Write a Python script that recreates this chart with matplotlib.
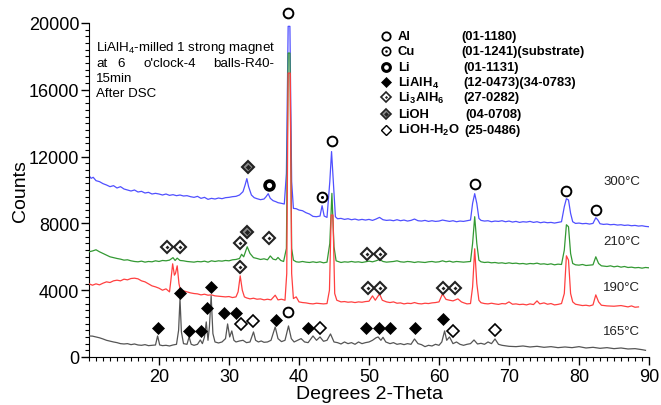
import matplotlib
matplotlib.use("Agg")
import matplotlib.pyplot as plt
from matplotlib.ticker import MultipleLocator

plt.rcParams['font.family'] = ['Liberation Sans', 'DejaVu Sans']
plt.rcParams['mathtext.fontset'] = 'custom'
plt.rcParams['mathtext.rm'] = 'Liberation Sans'
plt.rcParams['mathtext.it'] = 'Liberation Sans:italic'
plt.rcParams['mathtext.bf'] = 'Liberation Sans:bold'

# ---------------- data (2-theta, counts) ----------------
x_165 = [10, 10.5, 11, 11.5, 12, 12.5, 13, 13.5, 14, 14.5, 15, 15.5, 16, 16.5, 17, 17.5, 18, 18.5, 19, 19.5,
         19.8, 20.1, 20.5, 21, 21.5, 22, 22.5, 22.8, 23.0, 23.2, 23.5, 24, 24.3, 24.6, 25, 25.5, 25.9, 26.2,
         26.5, 26.75, 27.0, 27.2, 27.45, 27.7, 28, 28.5, 29, 29.5, 29.8, 30.1, 30.4, 30.7, 31, 31.5, 32, 32.5,
         33, 33.5, 33.8, 34.2, 34.6, 35, 35.5, 36, 36.6, 37, 37.5, 38, 38.5, 38.9, 39.3, 39.8, 40.3, 40.8,
         41.3, 42, 42.5, 43, 43.5, 44, 44.5, 45, 45.5, 46, 46.5, 47, 47.5, 48, 48.5, 49, 49.5, 50, 50.5, 51,
         51.3, 51.7, 52, 52.4, 53, 53.5, 54, 54.5, 55, 55.5, 56, 56.5, 57, 57.5, 58, 58.5, 59, 59.5, 60, 60.4,
         60.8, 61.1, 61.5, 62, 62.5, 63, 63.5, 64, 64.5, 65, 65.5, 66, 66.5, 67, 67.5, 68, 68.5, 69, 70, 71,
         72, 73, 74, 75, 76, 77, 78, 79, 80, 81, 82, 83, 84, 85, 86, 87, 88, 89, 89.5]
y_165 = [1260, 1250, 1200, 1150, 1080, 1000, 950, 900, 860, 800, 780, 800, 740, 780, 720, 700, 740, 680, 700, 720,
         1260, 720, 680, 700, 660, 720, 760, 1600, 3480, 1500, 800, 760, 1200, 760, 700, 760, 1020, 800,
         1200, 2100, 1000, 1800, 3660, 1400, 900, 840, 900, 1100, 1980, 1200, 1560, 1000, 900, 960, 1000, 860,
         900, 1500, 1000, 900, 960, 880, 900, 1000, 1800, 1100, 920, 1000, 1860, 1100, 900, 1000, 1100, 900,
         860, 1260, 1000, 1200, 940, 1000, 1380, 900, 860, 780, 900, 800, 860, 760, 900, 800, 860, 900, 1000, 1150,
         1200, 1000, 1180, 900, 800, 860, 760, 800, 740, 800, 760, 1080, 800, 740, 620, 700, 660, 760, 700, 900,
         1560, 1000, 1200, 800, 900, 760, 700, 760, 800, 1020, 780, 820, 760, 900, 800, 1080, 760, 700, 640, 620,
         660, 600, 640, 580, 620, 560, 600, 560, 620, 540, 580, 520, 560, 500, 540, 480, 500, 440, 400]

x_190 = [10, 10.5, 11, 11.5, 12, 12.5, 13, 13.5, 14, 14.5, 15, 15.5, 16, 16.5, 17, 17.5, 18, 18.5, 19, 19.5,
         20, 20.5, 21, 21.5, 21.7, 21.95, 22.2, 22.35, 22.6, 22.85, 23.1, 23.5, 24, 24.5, 25, 25.5, 26, 26.5,
         27, 27.5, 28, 28.5, 29, 29.5, 30, 30.5, 31, 31.3, 31.6, 31.9, 32.2, 32.5, 33, 33.5, 34, 34.5, 35,
         35.5, 36, 36.6, 37, 37.5, 38, 38.25, 38.45, 38.75, 38.95, 39.2, 39.6, 40, 40.5, 41, 41.5, 42, 42.5,
         43, 43.5, 44, 44.35, 44.6, 44.85, 45.1, 45.4, 46, 46.5, 47, 47.5, 48, 48.5, 49, 49.5, 50, 50.5, 50.9,
         51.5, 51.9, 52.5, 53, 53.5, 54, 54.5, 55, 55.5, 56, 56.5, 57, 57.5, 58, 58.5, 59, 59.5, 60, 60.5, 61,
         61.5, 62, 62.7, 63.2, 63.5, 64, 64.5, 64.8, 65.1, 65.4, 65.7, 66, 66.5, 67, 67.5, 68, 68.5, 69, 69.5,
         70, 70.5, 71, 71.5, 72, 72.5, 73, 73.5, 74, 74.4, 75, 75.5, 76, 76.5, 77, 77.5, 77.9, 78.2, 78.5,
         78.8, 79.1, 79.5, 80, 80.5, 81, 81.5, 82, 82.4, 82.8, 83.2, 84, 85, 86, 87, 87.5, 88, 88.5]
y_190 = [4380, 4300, 4380, 4320, 4420, 4500, 4460, 4560, 4600, 4560, 4660, 4620, 4700, 4720, 4680, 4560, 4500,
         4380, 4260, 4200, 4120, 4000, 4080, 3900, 4600, 5580, 4900, 5000, 5460, 4400, 3900, 3960, 3900, 3840,
         3800, 3780, 3720, 3760, 3700, 3720, 3660, 3640, 3620, 3600, 3620, 3560, 3600, 3900, 4860, 4000, 3600,
         3540, 3480, 3520, 3460, 3480, 3420, 3460, 3420, 3700, 3420, 3460, 3400, 5000, 17000, 17000, 5000, 3500,
         3600, 3300, 3260, 3240, 3200, 3180, 3220, 3200, 3180, 3200, 4000, 8500, 8500, 3800, 3400, 3300, 3320,
         3280, 3300, 3260, 3300, 3280, 3320, 3340, 3660, 3400, 3780, 3400, 3300, 3260, 3300, 3220, 3240, 3180,
         3220, 3200, 3260, 3200, 3180, 3220, 3200, 3240, 3260, 3300, 3780, 3450, 3400, 3360, 3480, 3300, 3250,
         3180, 3200, 4200, 6480, 4400, 3400, 3250, 3200, 3180, 3220, 3180, 3150, 3200, 3180, 3300, 3160, 3180,
         3140, 3160, 3120, 3180, 3140, 3360, 3180, 3240, 3160, 3200, 3120, 3150, 3200, 3800, 6060, 5800, 3800,
         3300, 3160, 3120, 3080, 3100, 3060, 3120, 3720, 3300, 3100, 3060, 3040, 3080, 3000, 3060, 2980, 3000]

x_210 = [10, 10.5, 11, 11.5, 12, 12.5, 13, 13.5, 14, 14.5, 15, 15.5, 16, 16.5, 17, 17.5, 18, 18.5, 19, 19.5,
         20, 20.5, 21, 21.5, 22, 22.3, 22.6, 23, 23.5, 24, 24.5, 25, 25.5, 26, 26.5, 27, 27.5, 28, 28.5, 29,
         29.5, 30, 30.5, 31, 31.5, 31.8, 32.1, 32.6, 33, 33.5, 34, 34.5, 35, 35.5, 35.9, 36.3, 36.7, 37, 37.4,
         37.8, 38.2, 38.45, 38.7, 38.95, 39.2, 39.6, 40, 40.5, 41, 41.5, 42, 42.5, 43, 43.5, 44, 44.4, 44.7,
         45.0, 45.3, 45.7, 46, 46.5, 47, 47.5, 48, 48.5, 49, 49.5, 50, 50.5, 51, 51.5, 52, 52.5, 53, 53.5, 54,
         54.5, 55, 55.5, 56, 56.5, 57, 57.5, 58, 58.5, 59, 59.5, 60, 60.5, 61, 61.5, 62, 62.5, 63, 63.5, 64,
         64.5, 64.8, 65.1, 65.4, 65.7, 66, 66.5, 67, 67.5, 68, 68.5, 69, 69.5, 70, 70.5, 71, 71.5, 72, 72.5,
         73, 73.5, 74, 74.5, 75, 75.5, 76, 76.5, 77, 77.5, 77.9, 78.2, 78.5, 78.8, 79.1, 79.5, 80, 80.5, 81,
         81.5, 82, 82.4, 82.8, 83.2, 84, 84.5, 85, 85.5, 86, 86.5, 87, 87.5, 88, 88.5, 89, 89.5, 90]
y_210 = [6300, 6350, 6420, 6300, 6200, 6100, 6000, 5950, 5900, 5860, 5800, 5820, 5760, 5720, 5700, 5740, 5680,
         5720, 5700, 5760, 5720, 5780, 5760, 5800, 5950, 5780, 5920, 5780, 5760, 5720, 5700, 5680, 5720, 5700,
         5740, 5680, 5760, 5720, 5760, 5740, 5780, 5760, 5820, 5840, 5900, 6150, 6000, 6600, 6200, 5950, 5900,
         5840, 5880, 5820, 6050, 5860, 5820, 5960, 5780, 5720, 6500, 18200, 18200, 6500, 5800, 5700, 5680, 5720,
         5680, 5660, 5700, 5660, 5700, 5640, 5680, 6800, 9800, 6600, 5760, 5700, 5660, 5700, 5680, 5720, 5680,
         5700, 5660, 5700, 5740, 5700, 5760, 5840, 5720, 5680, 5700, 5720, 5760, 5700, 5680, 5720, 5700, 5660,
         5700, 5680, 5660, 5700, 5720, 5680, 5700, 5760, 5700, 5740, 5680, 5720, 5700, 5680, 5700, 5720, 6800,
         8400, 6800, 5800, 5700, 5660, 5680, 5640, 5660, 5620, 5640, 5600, 5640, 5600, 5620, 5580, 5600, 5560,
         5600, 5580, 5620, 5560, 5580, 5540, 5580, 5520, 5560, 5540, 6400, 7920, 7800, 6200, 5600, 5520, 5500,
         5540, 5480, 5500, 5520, 6000, 5600, 5460, 5420, 5460, 5400, 5440, 5380, 5420, 5360, 5380, 5340, 5360,
         5320, 5360, 5340]

x_300 = [10, 10.3, 10.6, 11, 11.5, 12, 12.5, 13, 13.5, 14, 14.5, 15, 15.5, 16, 16.5, 17, 17.5, 18, 18.5, 19,
         19.5, 20, 20.5, 21, 21.5, 22, 22.5, 23, 23.5, 24, 24.5, 25, 25.5, 26, 26.5, 27, 27.5, 28, 28.5, 29,
         29.5, 30, 30.5, 31, 31.5, 32, 32.3, 32.55, 32.8, 33.2, 33.6, 34, 34.5, 35, 35.3, 35.6, 35.9, 36.3,
         36.7, 37, 37.5, 37.9, 38.2, 38.45, 38.7, 38.95, 39.2, 39.6, 40, 40.5, 41, 41.5, 42, 42.5, 43, 43.3,
         43.6, 44, 44.4, 44.65, 44.9, 45.2, 45.5, 46, 46.5, 47, 47.5, 48, 48.5, 49, 49.5, 50, 50.5, 51, 51.5,
         52, 52.5, 53, 53.5, 54, 54.5, 55, 55.5, 56, 56.5, 57, 57.5, 58, 58.5, 59, 59.5, 60, 60.5, 61, 61.5,
         62, 62.5, 63, 63.5, 64, 64.5, 64.8, 65.1, 65.4, 65.7, 66, 66.5, 67, 67.5, 68, 68.5, 69, 69.5, 70,
         70.5, 71, 71.5, 72, 72.5, 73, 73.5, 74, 74.5, 75, 75.5, 76, 76.5, 77, 77.5, 77.9, 78.2, 78.5, 78.8,
         79.1, 79.5, 80, 80.5, 81, 81.5, 82, 82.4, 82.7, 83, 83.5, 84, 84.5, 85, 85.5, 86, 86.5, 87, 87.5, 88,
         88.5, 89, 89.5, 90]
y_300 = [10860, 10700, 10760, 10560, 10500, 10380, 10300, 10200, 10260, 10120, 10200, 10060, 10000, 9940, 10000,
         9880, 9920, 9820, 9860, 9760, 9800, 9760, 9700, 9760, 9680, 9720, 9660, 9700, 9640, 9660, 9600, 9560,
         9620, 9500, 9560, 9440, 9500, 9460, 9520, 9480, 9540, 9560, 9600, 9620, 9700, 9900, 10300, 10680, 10200,
         9700, 9540, 9480, 9420, 9460, 9600, 9780, 9500, 9360, 9300, 9240, 9200, 9160, 11000, 19800, 19800, 10500,
         8900, 8880, 8800, 8760, 8640, 8560, 8420, 8400, 8440, 9060, 8440, 8360, 10500, 12300, 10500, 8400, 8280,
         8300, 8240, 8280, 8220, 8260, 8200, 8240, 8200, 8240, 8180, 8260, 8360, 8220, 8180, 8200, 8160, 8220,
         8160, 8200, 8140, 8180, 8260, 8160, 8140, 8180, 8120, 8160, 8120, 8140, 8200, 8160, 8120, 8160, 8100,
         8140, 8120, 8160, 8200, 9200, 9780, 9200, 8300, 8180, 8140, 8160, 8100, 8140, 8120, 8160, 8100, 8140,
         8080, 8120, 8060, 8100, 8080, 8120, 8060, 8100, 8040, 8080, 8040, 8060, 8020, 8060, 8100, 9000, 9480,
         9400, 8600, 8100, 8000, 8020, 7980, 8000, 7960, 8000, 8340, 8200, 7980, 7940, 7960, 7920, 7940, 7900,
         7920, 7880, 7900, 7860, 7880, 7840, 7860, 7820, 7800]

trace_labels = ['165°C', '190°C', '210°C', '300°C']
trace_label_y = [1560, 4200, 6960, 10560]

# phase markers (2-theta, counts)
al_x = [38.45, 44.65, 65.1, 78.1, 82.4, 38.45]
al_y = [20580, 12960, 10380, 9960, 8820, 2700]
cu_x = [43.3]
cu_y = [9600]
li_x = [35.7]
li_y = [10320]
lialh4_x = [19.85, 23.0, 24.3, 26.0, 26.8, 27.4, 29.3, 31.0, 36.7, 41.3, 49.6, 51.4, 53.0, 56.6, 60.6]
lialh4_y = [1760, 3840, 1560, 1560, 2940, 4170, 2610, 2610, 2220, 1740, 1760, 1760, 1760, 1760, 2300]
li3alh6_x = [21.1, 23.0, 31.6, 35.7, 31.6, 49.7, 51.6, 49.8, 51.6, 60.5, 62.3]
li3alh6_y = [6600, 6600, 6840, 7140, 5400, 6180, 6180, 4140, 4140, 4140, 4140]
lioh_x = [32.7, 32.6]
lioh_y = [11400, 7500]
liohh2o_x = [31.7, 33.45, 43.05, 61.95, 68.0]
liohh2o_y = [1950, 2160, 1740, 1560, 1620]

legend_names = ['Al', 'Cu', 'Li', r'LiAlH$_\mathbf{4}$', r'Li$_\mathbf{3}$AlH$_\mathbf{6}$', 'LiOH',
                r'LiOH-H$_\mathbf{2}$O']
legend_codes = ['(01-1180)', '(01-1241)(substrate)', '(01-1131)', '(12-0473)(34-0783)', '(27-0282)',
                '(04-0708)', '(25-0486)']

# ---------------- figure ----------------
fig = plt.figure(figsize=(6.61, 4.06), dpi=100)
ax = fig.add_axes([89 / 661, 1 - 358 / 406, 560 / 661, 334 / 406])

lw = 0.9
ax.plot(x_300, y_300, color='#5050ff', lw=lw, zorder=2)
ax.plot(x_210, y_210, color='#339933', lw=lw, zorder=3)
ax.plot(x_190, y_190, color='#ff4040', lw=lw, zorder=4)
ax.plot(x_165, y_165, color='#555555', lw=lw, zorder=5)

ax.set_xlim(10, 90)
ax.set_ylim(0, 20000)
ax.set_xticks([20, 30, 40, 50, 60, 70, 80, 90])
ax.set_yticks([0, 4000, 8000, 12000, 16000, 20000])
ax.xaxis.set_minor_locator(MultipleLocator(1))
ax.yaxis.set_minor_locator(MultipleLocator(400))
ax.tick_params(which='major', direction='out', length=6, width=1, labelsize=13, pad=2)
ax.tick_params(which='minor', direction='out', length=3, width=0.8)
ax.tick_params(axis='y', which='major', pad=1)
for s in ['top', 'right']:
    ax.spines[s].set_visible(False)
ax.set_ylabel('Counts', fontsize=14)
ax.set_xlabel('Degrees 2-Theta', fontsize=14)
ax.yaxis.set_label_coords(-0.108, 0.5)
ax.xaxis.set_label_coords(0.5, -0.085)

# markers
ms = 7.0
common = dict(ls='none', clip_on=False, zorder=10)
ax.plot(al_x, al_y, marker='o', ms=ms, mfc='white', mec='black', mew=1.4, **common)
ax.plot(cu_x, cu_y, marker='o', ms=ms, mfc='white', mec='black', mew=1.4, **common)
ax.plot(cu_x, cu_y, marker='o', ms=2.2, mfc='black', mec='black', mew=0, ls='none', clip_on=False, zorder=11)
ax.plot(li_x, li_y, marker='o', ms=6.4, mfc='white', mec='black', mew=2.6, **common)
ax.plot(lialh4_x, lialh4_y, marker='D', ms=6.0, mfc='black', mec='black', mew=0.5, **common)
ax.plot(li3alh6_x, li3alh6_y, marker='D', ms=6.0, mfc='white', mec='#222222', mew=1.5, **common)
ax.plot(li3alh6_x, li3alh6_y, marker='D', ms=2.0, mfc='#222222', mec='#222222', mew=0, ls='none',
        clip_on=False, zorder=11)
ax.plot(lioh_x, lioh_y, marker='D', ms=6.0, mfc='#888888', mec='#222222', mew=1.5, **common)
ax.plot(lioh_x, lioh_y, marker='D', ms=2.8, mfc='#222222', mec='#222222', mew=0, ls='none',
        clip_on=False, zorder=11)
ax.plot(liohh2o_x, liohh2o_y, marker='D', ms=6.0, mfc='white', mec='black', mew=1.2, **common)

# trace labels
for lab, yy in zip(trace_labels, trace_label_y):
    ax.text(86.1, yy, lab, fontsize=9.5, ha='center', va='center', color='#222222')

# sample description
def px2x(px):
    return (px - 89) / 7.0 + 10

def py2y(py):
    return (358 - py) * 60.0

tfs = 9.6
ax.text(px2x(96), py2y(49), r'LiAlH$_4$-milled 1 strong magnet', fontsize=tfs, ha='left', va='center')
for word, pxx in zip(['at', '6', "o'clock-4", 'balls-R40-'], [96, 117, 144, 213]):
    ax.text(px2x(pxx), py2y(65), word, fontsize=tfs, ha='left', va='center')
ax.text(px2x(96), py2y(80), '15min', fontsize=tfs, ha='left', va='center')
ax.text(px2x(96), py2y(95), 'After DSC', fontsize=tfs, ha='left', va='center')

# legend block
leg_rows_py = [38, 53, 69, 84, 99, 115, 131]
code_px = [461, 461, 463, 463, 463, 465, 464]
lfs = 9.4
lms = 6.0
sx = px2x(386)
for i, (name, code, rpy, cpx) in enumerate(zip(legend_names, legend_codes, leg_rows_py, code_px)):
    yy = py2y(rpy)
    ax.text(px2x(398), yy, name, fontsize=lfs, fontweight='bold', ha='left', va='center')
    ax.text(px2x(cpx), yy, code, fontsize=lfs, fontweight='bold', ha='left', va='center')
    if i == 0:
        ax.plot([sx], [yy], marker='o', ms=lms, mfc='white', mec='black', mew=1.3, **common)
    elif i == 1:
        ax.plot([sx], [yy], marker='o', ms=lms, mfc='white', mec='black', mew=1.2, **common)
        ax.plot([sx], [yy], marker='o', ms=1.8, mfc='black', mec='black', mew=0, ls='none', clip_on=False, zorder=11)
    elif i == 2:
        ax.plot([sx], [yy], marker='o', ms=5.6, mfc='white', mec='black', mew=2.2, **common)
    elif i == 3:
        ax.plot([sx], [yy], marker='D', ms=5.0, mfc='black', mec='black', mew=0.5, **common)
    elif i == 4:
        ax.plot([sx], [yy], marker='D', ms=5.0, mfc='white', mec='#222222', mew=1.2, **common)
        ax.plot([sx], [yy], marker='D', ms=1.6, mfc='#222222', mec='#222222', mew=0, ls='none', clip_on=False, zorder=11)
    elif i == 5:
        ax.plot([sx], [yy], marker='D', ms=5.0, mfc='#888888', mec='#222222', mew=1.2, **common)
        ax.plot([sx], [yy], marker='D', ms=2.4, mfc='#222222', mec='#222222', mew=0, ls='none', clip_on=False, zorder=11)
    else:
        ax.plot([sx], [yy], marker='D', ms=5.0, mfc='white', mec='black', mew=1.0, **common)

fig.savefig('out.png', dpi=100)
